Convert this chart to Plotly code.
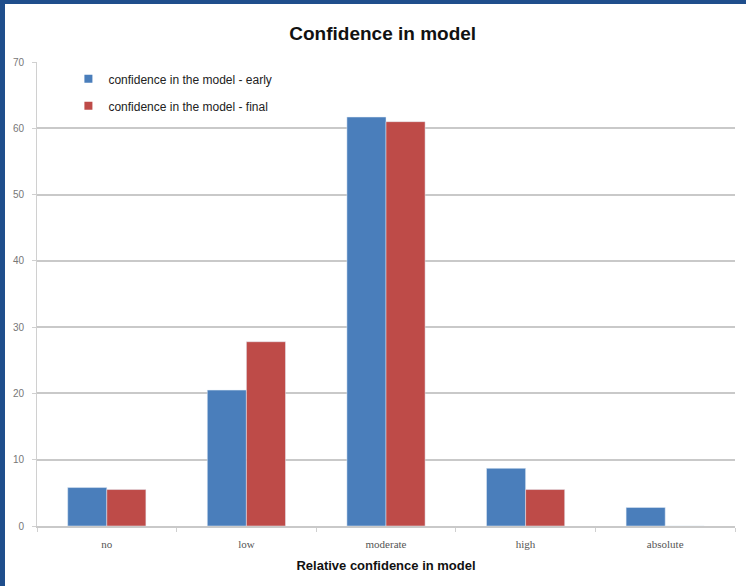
import plotly.graph_objects as go

categories = ["no", "low", "moderate", "high", "absolute"]
early = [5.8, 20.5, 61.7, 8.7, 2.8]
final = [5.5, 27.8, 61.0, 5.5, 0]
y_ticks = [0, 10, 20, 30, 40, 50, 60, 70]

BLUE = "#4a7ebb"
RED = "#be4b48"
W, H = 746, 586
L, R, T, B = 37, 11, 62, 60

fig = go.Figure()
fig.add_trace(go.Bar(x=categories, y=early, marker_color=BLUE, showlegend=False))
fig.add_trace(go.Bar(x=categories, y=final, marker_color=RED, showlegend=False))

# legend entries with small square symbols
for name, color, grp in (("confidence in the model - early", BLUE, "a"),
                         ("confidence in the model - final", RED, "b")):
    fig.add_trace(go.Scatter(x=[None], y=[None], mode="markers", name=name,
                             legendgroup=grp,
                             marker=dict(symbol="square", size=8, color=color)))

fig.update_layout(
    width=W, height=H,
    margin=dict(l=L, r=R, t=T, b=B),
    paper_bgcolor="white", plot_bgcolor="white",
    barmode="group", bargap=0.44, bargroupgap=0,
    title=dict(text="<b>Confidence in model</b>", x=0.513, xanchor="center",
               y=0.943, yanchor="middle",
               font=dict(family="Liberation Sans, Arial", size=19, color="#111")),
    legend=dict(x=0.045, y=0.995, xanchor="left", yanchor="top",
                bgcolor="rgba(0,0,0,0)", tracegroupgap=8,
                font=dict(family="Liberation Sans, Arial", size=12, color="#222")),
    font=dict(family="Liberation Sans, Arial"),
)
fig.update_yaxes(range=[0, 70], tickvals=y_ticks, showgrid=True,
                 gridcolor="#c9c9c9", gridwidth=1.5, zeroline=False,
                 showline=True, linecolor="#d0d0d0", linewidth=1,
                 ticks="outside", ticklen=4, tickcolor="#d0d0d0",
                 ticklabelstandoff=6,
                 tickfont=dict(family="Liberation Sans, Arial", size=10, color="#777"))
fig.update_xaxes(showline=True, linecolor="#c9c9c9", linewidth=1.5,
                 ticks="outside", tickson="boundaries", ticklen=4, tickcolor="#d0d0d0",
                 ticklabelstandoff=7,
                 tickfont=dict(family="Liberation Serif, Times New Roman", size=11, color="#555"),
                 title=dict(text="<b>Relative confidence in model</b>", standoff=12,
                            font=dict(family="Liberation Sans, Arial", size=13, color="#111")))

# dark blue frame on left and top edges
pw, ph = W - L - R, H - T - B
x_left = -L / pw
y_top = 1 + T / ph
y_bot = -B / ph
fig.add_shape(type="rect", xref="paper", yref="paper", x0=x_left, x1=x_left + 5 / pw,
              y0=y_bot, y1=y_top, fillcolor="#1f4e8c", line_width=0, layer="above")
fig.add_shape(type="rect", xref="paper", yref="paper", x0=x_left, x1=1 + R / pw,
              y0=y_top - 4 / ph, y1=y_top, fillcolor="#1f4e8c", line_width=0, layer="above")

fig.write_html("out.html", config={"displayModeBar": False},
               post_script="document.body.style.margin='0';")
